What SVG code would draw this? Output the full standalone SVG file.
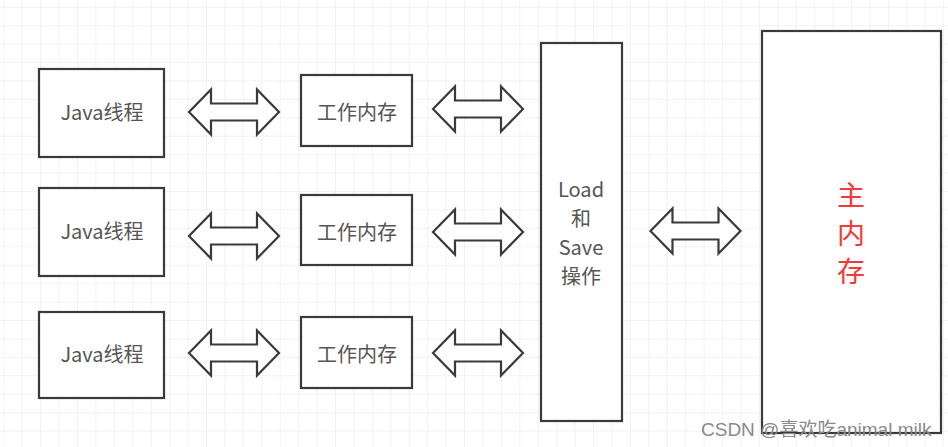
<svg xmlns="http://www.w3.org/2000/svg" width="948" height="447" viewBox="0 0 948 447">
<style>
.box{fill:#fff;stroke:#3a3a3a;stroke-width:2.2}
.arr{fill:#fff;stroke:#3a3a3a;stroke-width:2.2;stroke-linejoin:miter}
.t{font-family:"Microsoft YaHei","Noto Sans CJK SC","Liberation Sans",sans-serif;fill:#555;text-anchor:middle}
.n{font-size:20px}
.red{fill:#f23a3a;font-size:28px}
.wm{font-family:"Liberation Sans","Noto Sans CJK SC",sans-serif;font-size:19px;fill:#8a8a8a}
</style>
<defs>
<pattern id="grid" x="3.3" y="6.7" width="18.43" height="18.43" patternUnits="userSpaceOnUse">
<path d="M0 0H18.43M0 0V18.43" fill="none" stroke="#e6e6e6" stroke-width="1"/>
</pattern>
<path id="dbl" d="M-45 0L-23 -22.5L-23 -8.5L23 -8.5L23 -22.5L45 0L23 22.5L23 8.5L-23 8.5L-23 22.5Z"/>
</defs>
<rect width="948" height="447" fill="#fff"/>
<rect width="948" height="447" fill="url(#grid)"/>
<g id="connectors" class="arr">
<use href="#dbl" transform="translate(234,112)"/>
<use href="#dbl" transform="translate(478,109)"/>
<use href="#dbl" transform="translate(234,236)"/>
<use href="#dbl" transform="translate(478,232)"/>
<use href="#dbl" transform="translate(234,353)"/>
<use href="#dbl" transform="translate(478,353)"/>
<use href="#dbl" transform="translate(695.5,231)"/>
</g>
<g id="java1"><rect class="box" x="39" y="69" width="125" height="88"/><text class="t n" x="102" y="120">Java线程</text></g>
<g id="java2"><rect class="box" x="39" y="188" width="125" height="88"/><text class="t n" x="102" y="239">Java线程</text></g>
<g id="java3"><rect class="box" x="39" y="312" width="125" height="86"/><text class="t n" x="102" y="362">Java线程</text></g>
<g id="work1"><rect class="box" x="301" y="75" width="111" height="71"/><text class="t n" x="357" y="120">工作内存</text></g>
<g id="work2"><rect class="box" x="301" y="195" width="111" height="70"/><text class="t n" x="357" y="240">工作内存</text></g>
<g id="work3"><rect class="box" x="301" y="317" width="111" height="71"/><text class="t n" x="357" y="362">工作内存</text></g>
<g id="loadsave"><rect class="box" x="541" y="43" width="81" height="378"/>
<text class="t n" x="581" y="197">Load</text>
<text class="t n" x="581" y="226">和</text>
<text class="t n" x="581" y="255">Save</text>
<text class="t n" x="581" y="284">操作</text></g>
<g id="mainmem"><rect class="box" x="762" y="31" width="179" height="402"/>
<text class="t red" x="851" y="205.5">主</text>
<text class="t red" x="851" y="243.5">内</text>
<text class="t red" x="851" y="282">存</text></g>
<text class="wm" x="701" y="436">CSDN @喜欢吃animal milk</text>
</svg>
